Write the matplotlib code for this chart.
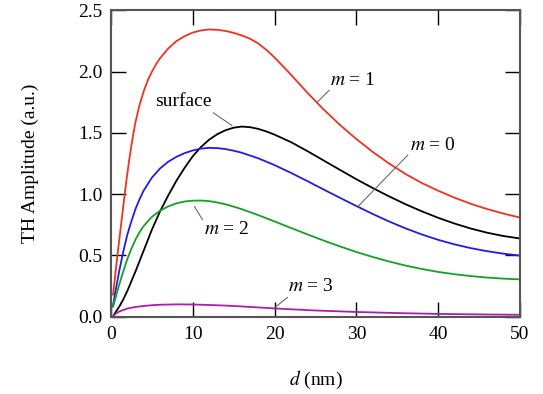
import matplotlib
matplotlib.use("Agg")
import matplotlib.pyplot as plt

plt.rcParams.update({"font.family": "Liberation Serif", "mathtext.fontset": "stix", "font.size": 14})

# thickness d (nm) and TH amplitude (a.u.) for each mode
d_m1 = [0.25, 0.5, 0.75, 1.0, 1.25, 1.5, 1.75, 2.0, 2.25, 2.5, 2.75, 3.0, 3.5, 4.0, 4.5, 5.0, 5.5, 6.0,
        7.0, 8.0, 9.0, 10, 11, 12, 13, 14, 15, 16, 17, 18, 19, 20, 22, 24, 26, 28, 30, 32, 34, 36, 38,
        40, 42, 44, 46, 48, 50]
amp_m1 = [0.18, 0.33, 0.48, 0.62, 0.76, 0.90, 1.04, 1.17, 1.29, 1.40, 1.50, 1.59, 1.73, 1.84, 1.93, 2.00,
          2.06, 2.11, 2.19, 2.25, 2.29, 2.32, 2.337, 2.345, 2.342, 2.333, 2.317, 2.296, 2.269, 2.231, 2.178,
          2.116, 1.976, 1.829, 1.691, 1.565, 1.450, 1.345, 1.250, 1.165, 1.091, 1.028, 0.971, 0.921, 0.878,
          0.841, 0.809]

d_surf = [0.25, 0.5, 1.0, 1.5, 2.0, 2.5, 3.0, 4.0, 5.0, 6.0, 7.0, 8.0, 9.0, 10, 11, 12, 13, 14, 15, 16,
          17, 18, 19, 20, 22, 24, 26, 28, 30, 32, 34, 36, 38, 40, 42, 44, 46, 48, 50]
amp_surf = [0.0, 0.03, 0.08, 0.14, 0.21, 0.29, 0.37, 0.54, 0.71, 0.86, 0.99, 1.11, 1.215, 1.31, 1.385,
            1.445, 1.49, 1.522, 1.543, 1.552, 1.547, 1.533, 1.512, 1.486, 1.425, 1.352, 1.275, 1.198,
            1.122, 1.050, 0.982, 0.918, 0.860, 0.807, 0.760, 0.719, 0.685, 0.658, 0.638]

d_m0 = [0.25, 0.5, 0.75, 1.0, 1.5, 2.0, 2.5, 3.0, 3.5, 4.0, 5.0, 6.0, 7.0, 8.0, 9.0, 10, 11, 12, 13, 14,
        15, 16, 18, 20, 22, 24, 26, 28, 30, 32, 34, 36, 38, 40, 42, 44, 46, 48, 50]
amp_m0 = [0.09, 0.19, 0.28, 0.37, 0.53, 0.67, 0.78, 0.88, 0.96, 1.03, 1.135, 1.21, 1.265, 1.305, 1.335,
          1.357, 1.372, 1.378, 1.376, 1.368, 1.355, 1.338, 1.293, 1.237, 1.174, 1.107, 1.038, 0.970,
          0.903, 0.838, 0.777, 0.721, 0.671, 0.627, 0.590, 0.559, 0.534, 0.514, 0.498]

d_m2 = [0.25, 0.5, 0.75, 1.0, 1.5, 2.0, 2.5, 3.0, 3.5, 4.0, 5.0, 6.0, 7.0, 8.0, 9.0, 10, 11, 12, 13, 14,
        15, 16, 18, 20, 22, 24, 26, 28, 30, 32, 34, 36, 38, 40, 42, 44, 46, 48, 50]
amp_m2 = [0.08, 0.14, 0.20, 0.26, 0.37, 0.47, 0.555, 0.63, 0.69, 0.74, 0.815, 0.865, 0.90, 0.925, 0.94,
          0.947, 0.948, 0.943, 0.932, 0.917, 0.898, 0.877, 0.829, 0.777, 0.724, 0.672, 0.621, 0.573,
          0.528, 0.487, 0.450, 0.417, 0.389, 0.365, 0.346, 0.331, 0.319, 0.310, 0.304]

d_m3 = [0.25, 0.5, 1.0, 2.0, 3.0, 4.0, 5.0, 6.0, 8.0, 10, 12, 14, 16, 18, 20, 22, 25, 30, 35, 40, 45, 50]
amp_m3 = [0.0, 0.02, 0.042, 0.066, 0.079, 0.087, 0.093, 0.097, 0.10, 0.099, 0.095, 0.09, 0.083, 0.075,
          0.067, 0.06, 0.05, 0.038, 0.029, 0.022, 0.018, 0.015]

fig = plt.figure(figsize=(5.43, 3.94), dpi=100)
ax = fig.add_axes([0.2044, 0.1964, 0.7532, 0.777])

lw = 1.3
ax.plot(d_m1, amp_m1, color="#f0321e", lw=lw)
ax.plot(d_surf, amp_surf, color="black", lw=lw)
ax.plot(d_m0, amp_m0, color="#1e1ee6", lw=lw)
ax.plot(d_m2, amp_m2, color="#14a028", lw=lw)
ax.plot(d_m3, amp_m3, color="#aa1eaa", lw=lw)

# curve labels with thin leader lines
arrow = dict(arrowstyle="-", color="0.35", lw=0.7, shrinkA=0, shrinkB=0)
labels = [("surface", (14.8, 1.56), (12.5, 1.665), (8.9, 1.76)),
          ("$m$ = 1", (25.2, 1.75), (26.7, 1.85), (29.5, 1.93)),
          ("$m$ = 0", (30.2, 0.90), (36.3, 1.32), (39.3, 1.40)),
          ("$m$ = 2", (10.2, 0.90), (11.2, 0.79), (14.2, 0.715)),
          ("$m$ = 3", (20.0, 0.073), (21.6, 0.158), (24.4, 0.25))]
for txt, tip, base, pos in labels:
    ax.annotate("", xy=tip, xytext=base, arrowprops=arrow)
    ax.text(pos[0], pos[1], txt, ha="center", va="center", fontsize=14)

ax.set_xlim(0, 50)
ax.set_ylim(0, 2.5)
ax.set_xticks(range(0, 51, 10))
ax.set_yticks([0, 0.5, 1.0, 1.5, 2.0, 2.5])
ax.set_yticklabels(["0.0", "0.5", "1.0", "1.5", "2.0", "2.5"])
ax.tick_params(direction="in", length=10.5, width=1.0, top=True, right=True, labelsize=14)
ax.tick_params(axis="y", pad=6)
ax.tick_params(axis="x", pad=7)
for s in ax.spines.values():
    s.set_color("#555555")
    s.set_linewidth(1.5)

ax.set_xlabel("$d$ (nm)", fontsize=14)
ax.xaxis.set_label_coords(0.5, -0.17)
ax.set_ylabel("TH Amplitude (a.u.)", fontsize=14)
ax.yaxis.set_label_coords(-0.175, 0.5)

fig.savefig("out.png", dpi=100)
